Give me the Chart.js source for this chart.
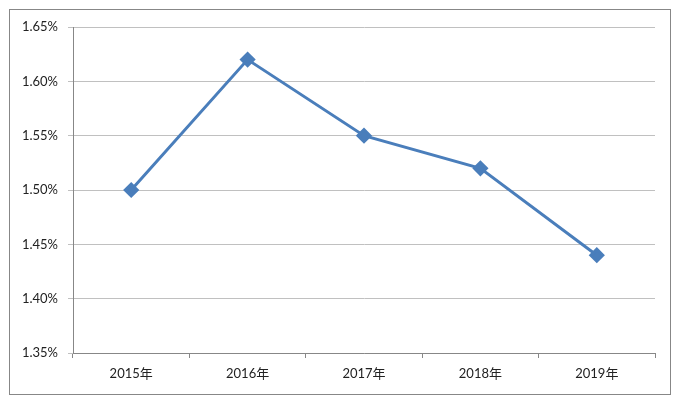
<!DOCTYPE html>
<html><head><meta charset="utf-8">
<script src="https://cdn.jsdelivr.net/npm/chart.js@4"></script>
<style>html,body{margin:0;padding:0;background:#fff}#wrap{width:679px;height:402px;position:relative}</style>
</head><body><div id="wrap"><canvas id="c"></canvas></div>
<script>
const categories = ['2015年','2016年','2017年','2018年','2019年'];
const values = [1.50, 1.62, 1.55, 1.52, 1.44];
const yMin = 1.35, yMax = 1.65, yStep = 0.05;

const borderPlugin = {
  id: 'outerBorder',
  beforeDraw(chart){
    const ctx = chart.ctx;
    ctx.save();
    ctx.fillStyle = '#fff';
    ctx.fillRect(0,0,chart.width,chart.height);
    ctx.strokeStyle = '#878787';
    ctx.lineWidth = 1;
    ctx.strokeRect(9.5, 9.5, 661, 385);
    ctx.restore();
  }
};

new Chart(document.getElementById('c'), {
  type: 'line',
  data: { labels: categories, datasets: [{
    data: values,
    borderColor: '#4a7ebb',
    backgroundColor: '#4a7ebb',
    borderWidth: 3,
    pointStyle: 'rectRot',
    pointRadius: 6,
    pointHoverRadius: 6,
    tension: 0,
    fill: false
  }]},
  options: {
    responsive: true, maintainAspectRatio: false, animation: false,
    devicePixelRatio: 1,
    layout: { padding: { left: 0, right: 24, top: 27, bottom: 0 } },
    plugins: { legend: { display: false }, tooltip: { enabled: false } },
    scales: {
      x: {
        offset: true,
        grid: { offset: true, drawOnChartArea: false, tickLength: 5, color: '#878787' },
        border: { color: '#878787' },
        ticks: { color: '#222', font: { family: 'Lato, "Noto Sans CJK SC"', size: 13 }, padding: 8, maxRotation: 0 },
        afterFit(s){ s.height = 49; }
      },
      y: {
        min: yMin, max: yMax,
        grid: { color: '#c0c0c0', tickLength: 5 },
        border: { color: '#878787' },
        ticks: { stepSize: yStep, color: '#222', padding: 10,
          font: { family: 'Lato, "Noto Sans CJK SC"', size: 13 },
          callback: v => v.toFixed(2) + '%' },
        afterFit(s){ s.width = 73; }
      }
    }
  },
  plugins: [borderPlugin]
});
</script></body></html>
